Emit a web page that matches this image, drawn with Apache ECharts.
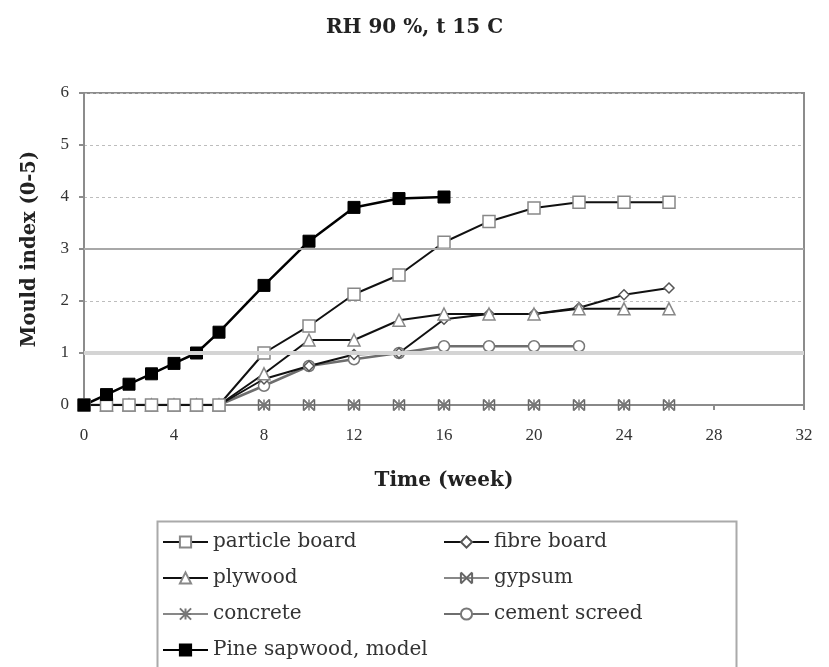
<!DOCTYPE html>
<html>
<head>
<meta charset="utf-8">
<script src="https://cdn.jsdelivr.net/npm/echarts@6/dist/echarts.min.js"></script>
<style>html,body{margin:0;padding:0;background:#fff}#c{width:829px;height:667px}</style>
</head>
<body>
<div id="c"></div>
<script>
// ---- data ----
const weeks = [0,1,2,3,4,5,6,8,10,12,14,16,18,20,22,24,26];
const pineWeeks = [0,1,2,3,4,5,6,8,10,12,14,16];
const cementWeeks = [0,1,2,3,4,5,6,8,10,12,14,16,18,20,22];
const pine = [0,0.2,0.4,0.6,0.8,1.0,1.4,2.3,3.15,3.8,3.97,4.0];
const particleBoard = [0,0,0,0,0,0,0,1.0,1.52,2.13,2.5,3.13,3.53,3.79,3.9,3.9,3.9];
const plywood = [0,0,0,0,0,0,0,0.6,1.25,1.25,1.63,1.75,1.75,1.75,1.85,1.85,1.85];
const fibreBoard = [0,0,0,0,0,0,0,0.5,0.75,0.97,1.0,1.65,1.75,1.75,1.87,2.12,2.25];
const cementScreed = [0,0,0,0,0,0,0,0.37,0.75,0.88,1.0,1.13,1.13,1.13,1.13];
const gypsum = [0,0,0,0,0,0,0,0,0,0,0,0,0,0,0,0,0];
const concrete = [0,0,0,0,0,0,0,0,0,0,0,0,0,0,0,0,0];
const xTicks = [0,4,8,12,16,20,24,28,32];
const yTicks = [0,1,2,3,4,5,6];

const zip = (xs, ys) => ys.map((v, i) => [xs[i], v]);
const serif = 'Liberation Serif';
const wide = 'DejaVu Serif';

const chart = echarts.init(document.getElementById('c'));
chart.setOption({
  animation: false,
  backgroundColor: '#fff',
  title: {
    text: 'RH 90 %, t 15 C', left: 'center', top: 13,
    textStyle: {fontFamily: wide, fontWeight: 'bold', fontSize: 20, color: '#222'}
  },
  grid: {left: 84, right: 25, top: 93, bottom: 262, show: true, borderColor: '#8c8c8c', borderWidth: 2},
  xAxis: {
    type: 'value', min: xTicks[0], max: xTicks[xTicks.length-1], interval: 4,
    name: 'Time (week)', nameLocation: 'middle', nameGap: 66,
    nameTextStyle: {fontFamily: wide, fontWeight: 'bold', fontSize: 20, color: '#222'},
    axisLine: {lineStyle: {color: '#8c8c8c', width: 2}},
    axisTick: {show: true, length: 5, lineStyle: {color: '#8c8c8c', width: 2}},
    axisLabel: {fontFamily: serif, fontSize: 17, color: '#333', margin: 22},
    splitLine: {show: false}
  },
  yAxis: {
    type: 'value', min: yTicks[0], max: yTicks[yTicks.length-1], interval: 1,
    name: 'Mould index (0-5)', nameLocation: 'middle', nameGap: 44,
    nameTextStyle: {fontFamily: wide, fontWeight: 'bold', fontSize: 19.5, color: '#222'},
    axisLine: {lineStyle: {color: '#8c8c8c', width: 2}},
    axisTick: {show: true, length: 5, lineStyle: {color: '#8c8c8c', width: 2}},
    axisLabel: {fontFamily: serif, fontSize: 17, color: '#333', margin: 15},
    splitLine: {show: true, lineStyle: {color: '#bdbdbd', type: [3, 3], width: 1}}
  },
  legend: [
    {
      orient: 'vertical', left: 162, top: 531, height: 200, padding: 0,
      itemWidth: 45, itemHeight: 14, itemGap: 14,
      data: ['particle board', 'plywood', 'concrete', 'Pine sapwood, model'],
      textStyle: {fontFamily: wide, fontSize: 20, color: '#333', lineHeight: 22}
    },
    {
      orient: 'vertical', left: 443, top: 531, height: 200, padding: 0,
      itemWidth: 45, itemHeight: 14, itemGap: 14,
      data: ['fibre board', 'gypsum', 'cement screed'],
      textStyle: {fontFamily: wide, fontSize: 20, color: '#333', lineHeight: 22}
    }
  ],
  graphic: [{
    type: 'rect', left: 155, top: 519, silent: true,
    shape: {width: 579, height: 160},
    style: {fill: 'none', stroke: '#aaaaaa', lineWidth: 2}
  }],
  series: [
    {
      name: 'gypsum', type: 'line', data: zip(weeks, gypsum),
      symbol: 'path://M0,0L10,10M10,0L0,10M0,0L0,10M10,0L10,10', symbolSize: 11,
      lineStyle: {color: '#888', width: 2},
      itemStyle: {color: 'transparent', borderColor: '#666', borderWidth: 1.5},
      markLine: {
        silent: true, symbol: 'none', label: {show: false},
        data: [
          {yAxis: 1, lineStyle: {color: '#d4d4d4', width: 4, type: 'solid'}},
          {yAxis: 3, lineStyle: {color: '#a8a8a8', width: 2, type: 'solid'}}
        ]
      }
    },
    {
      name: 'concrete', type: 'line', data: zip(weeks, concrete),
      symbol: 'path://M0,0L10,10M10,0L0,10M5,0L5,10M0,5L10,5', symbolSize: 11,
      lineStyle: {color: '#888', width: 2},
      itemStyle: {color: '#222', borderColor: '#777', borderWidth: 1.5}
    },
    {
      name: 'cement screed', type: 'line', data: zip(cementWeeks, cementScreed),
      symbol: 'circle', symbolSize: 11,
      lineStyle: {color: '#6e6e6e', width: 2.5},
      itemStyle: {color: '#fff', borderColor: '#777', borderWidth: 1.5}
    },
    {
      name: 'fibre board', type: 'line', data: zip(weeks, fibreBoard),
      symbol: 'diamond', symbolSize: 10,
      lineStyle: {color: '#111', width: 2},
      itemStyle: {color: '#fff', borderColor: '#555', borderWidth: 1.5}
    },
    {
      name: 'plywood', type: 'line', data: zip(weeks, plywood),
      symbol: 'triangle', symbolSize: 12,
      lineStyle: {color: '#111', width: 2},
      itemStyle: {color: '#fff', borderColor: '#888', borderWidth: 1.5}
    },
    {
      name: 'particle board', type: 'line', data: zip(weeks, particleBoard),
      symbol: 'rect', symbolSize: 12,
      lineStyle: {color: '#111', width: 2},
      itemStyle: {color: '#fff', borderColor: '#888', borderWidth: 1.5}
    },
    {
      name: 'Pine sapwood, model', type: 'line', data: zip(pineWeeks, pine),
      symbol: 'rect', symbolSize: 12,
      lineStyle: {color: '#000', width: 2.5},
      itemStyle: {color: '#000', borderColor: '#000', borderWidth: 1}
    }
  ]
});
</script>
</body>
</html>
